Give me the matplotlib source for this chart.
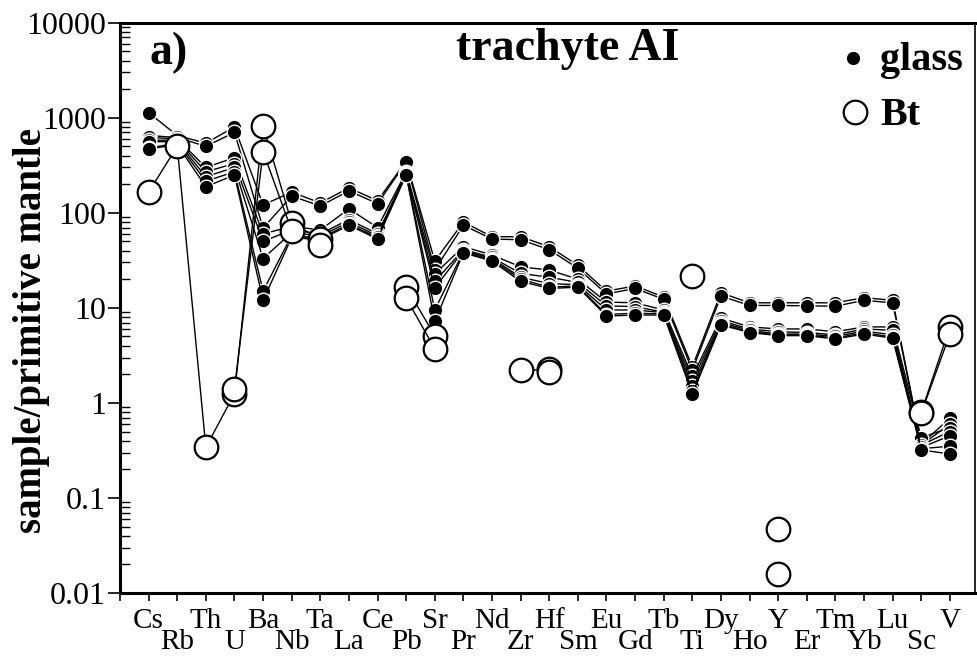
import numpy as np
import matplotlib
matplotlib.use("Agg")
import matplotlib.pyplot as plt
from matplotlib.ticker import LogLocator, NullFormatter, FixedLocator

plt.rcParams['font.family'] = ['Liberation Serif', 'DejaVu Serif']

# element order of the spider diagram
elements = ["Cs", "Rb", "Th", "U", "Ba", "Nb", "Ta", "La", "Ce", "Pb", "Sr", "Pr",
            "Nd", "Zr", "Hf", "Sm", "Eu", "Gd", "Tb", "Ti", "Dy", "Ho", "Y", "Er",
            "Tm", "Yb", "Lu", "Sc", "V"]

nan = np.nan

# glass analyses (sample / primitive mantle)
glass_1 = [1130, 650, 540, 800, 121, 165, 127, 183, 134, 350, 31, 80, 56, 56, 44, 28,
           15, 17, 13, 2.4, 14.4, 11.3, 11.3, 11.3, 11.3, 12.8, 12, 0.37, 0.69]
glass_2 = [650, 620, 500, 700, 69, 150, 118, 170, 125, 340, 25, 74, 53, 52, 41, 26,
           14, 16, 12.3, 2.2, 13.3, 10.6, 10.6, 10.5, 10.4, 12, 11.3, 0.36, 0.6]
glass_3 = [620, 600, 300, 380, 60, 72, 66, 110, 70, 270, 22.8, 44, 36, 27, 25, 20,
           11.5, 11.3, 9.5, 1.9, 7.8, 6.3, 6, 6, 5.6, 6.3, 6.3, 0.43, 0.55]
glass_4 = [580, 580, 270, 330, 50, 66, 60, 85, 60, 262, 19, 41, 34, 23, 21, 18.5,
           10.5, 10.3, 9, 1.7, 7.3, 6, 5.6, 5.5, 5.2, 6, 5.8, 0.36, 0.5]
glass_5 = [560, 560, 240, 300, 33, 62, 57, 80, 57, 258, 16.2, 40, 33, 21, 18, 17.5,
           9.5, 9.5, 8.9, 1.5, 7, 5.8, 5.3, 5.3, 5, 5.7, 5.2, 0.34, 0.45]
glass_6 = [480, 540, 215, 270, 15, 58, 54, 76, 55, 255, 9.5, 39, 32, 20, 16.5, 17,
           8.5, 8.8, 8.6, 1.35, 6.8, 5.6, 5.2, 5.2, 4.8, 5.5, 4.9, 0.33, 0.35]
glass_7 = [470, 520, 188, 250, 12, 55, 52, 74, 53, 250, 7.2, 38, 31, 19, 16, 16.5,
           8.2, 8.4, 8.4, 1.24, 6.6, 5.5, 5.1, 5.1, 4.7, 5.3, 4.8, 0.32, 0.29]
glass = [glass_1, glass_2, glass_3, glass_4, glass_5, glass_6, glass_7]

# biotite analyses, gaps where no value is plotted
bt_1 = [165, 500, 0.34, 1.25, 826, 78, 53, nan, nan, 16.5, 5.1, nan, nan, 2.2, 2.25, nan,
        nan, nan, nan, 21.5, nan, nan, 0.047, nan, nan, nan, nan, 0.8, 6.3]
bt_2 = [nan, nan, nan, 1.4, 440, 65, 46, nan, nan, 12.7, 3.7, nan, nan, nan, 2.1, nan,
        nan, nan, nan, nan, nan, nan, 0.016, nan, nan, nan, nan, 0.78, 5.3]
biotite = [bt_1, bt_2]

x = np.arange(len(elements))

fig = plt.figure(figsize=(9.78, 6.58), dpi=100)
ax = fig.add_axes([0.1227, 0.0988, 0.8743, 0.8667])

for g in glass:
    ax.plot(x, g, '-', color='black', lw=1.0, marker='o', ms=10.5,
            mfc='black', mec='white', mew=1.0, zorder=2)
for b in biotite:
    ax.plot(x, b, '-', color='black', lw=1.0, marker='o', ms=17,
            mfc='white', mec='black', mew=1.6, zorder=3)

ax.set_yscale('log')
ax.set_ylim(0.01, 10000)
ax.set_xlim(-1, 28.88)

# x ticks: one per element, labels in two alternating rows
ax.set_xticks(np.arange(-1, len(elements)))
ax.set_xticklabels([''] + elements, fontsize=21)
ax.tick_params(axis='x', direction='out', length=6, width=1.2)
for i, t in enumerate(ax.xaxis.get_major_ticks()):
    if i >= 1 and (i - 1) % 2 == 1:
        t.set_pad(20)
    else:
        t.set_pad(5)

# y ticks
ax.yaxis.set_major_locator(FixedLocator([0.01, 0.1, 1, 10, 100, 1000, 10000]))
ax.set_yticklabels(['0.01', '0.1', '1', '10', '100', '1000', '10000'], fontsize=23)
ax.yaxis.set_minor_locator(LogLocator(base=10, subs=np.arange(2, 10), numticks=20))
ax.yaxis.set_minor_formatter(NullFormatter())
ax.tick_params(axis='y', which='major', direction='out', length=9, width=1.2, pad=1)
ax.tick_params(axis='y', which='minor', direction='in', length=7, width=1.0)

for s in ['left', 'bottom', 'top']:
    ax.spines[s].set_linewidth(2.2)
ax.spines['right'].set_linewidth(1.2)

ax.set_ylabel('sample/primitive mantle', fontsize=28, fontweight='bold')
ax.yaxis.set_label_coords(-0.082, 0.46)

ax.text(0.035, 0.985, 'a)', transform=ax.transAxes, fontsize=33, fontweight='bold',
        va='top', ha='left')
ax.text(0.523, 0.99, 'trachyte AI', transform=ax.transAxes, fontsize=33,
        fontweight='bold', va='top', ha='center')

# legend, placed by hand
ax.plot([0.857], [0.9386], 'o', ms=10.5, mfc='black', mec='white', mew=1.0,
        transform=ax.transAxes, clip_on=False)
ax.plot([0.860], [0.8439], 'o', ms=17, mfc='white', mec='black', mew=1.6,
        transform=ax.transAxes, clip_on=False)
ax.text(0.889, 0.9175, 'glass', transform=ax.transAxes, fontsize=29,
        fontweight='bold', va='baseline', ha='left')
ax.text(0.889, 0.821, 'Bt', transform=ax.transAxes, fontsize=29,
        fontweight='bold', va='baseline', ha='left')

fig.savefig('out.png', dpi=100)
